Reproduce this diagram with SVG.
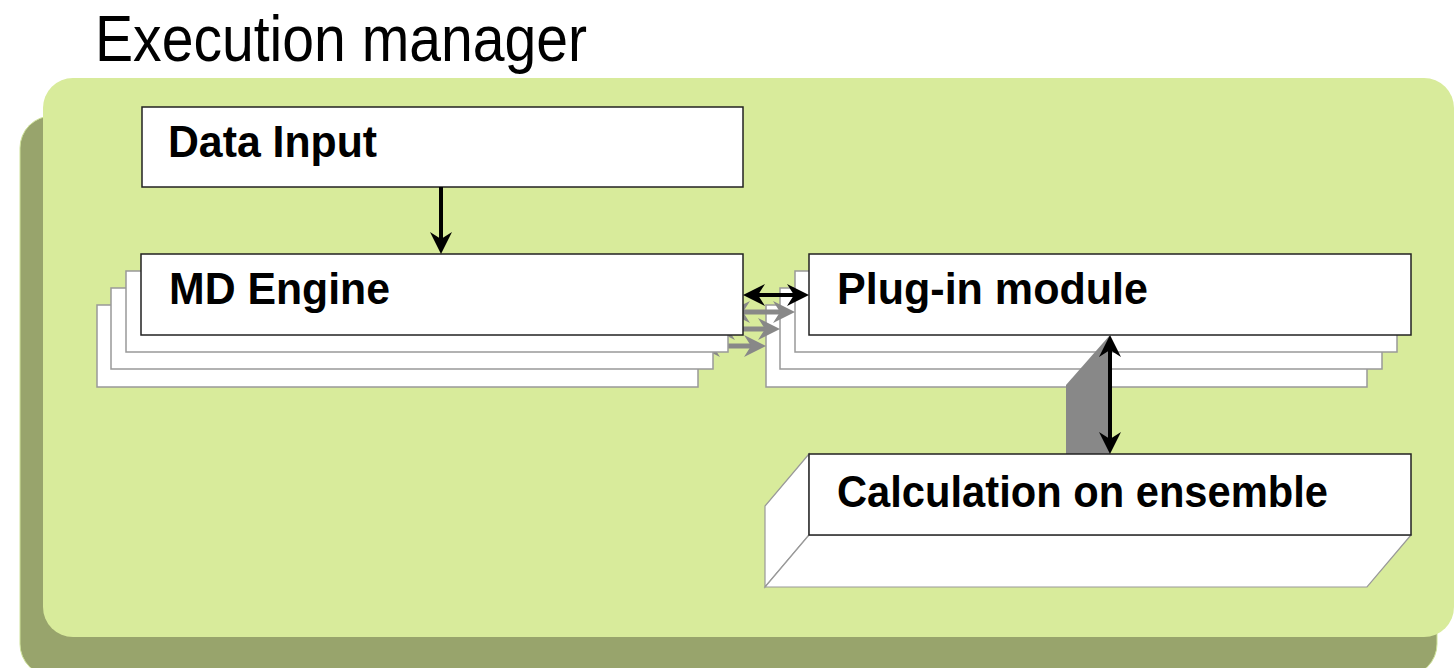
<svg xmlns="http://www.w3.org/2000/svg" width="1455" height="668" viewBox="0 0 1455 668">
  <style>
    .title { font-family: "Liberation Sans", Arial, sans-serif; font-size: 64px; fill: #000; }
    .label { font-family: "Liberation Sans", Arial, sans-serif; font-size: 45px; font-weight: bold; fill: #000; }
    .box { fill: #fff; stroke: #222; stroke-width: 1.5; }
    .layer { fill: #fff; stroke: #999; stroke-width: 1.5; }
    .face { fill: #fff; stroke: #999; stroke-width: 1.2; }
    .link { stroke: #000; stroke-width: 4; fill: none; }
    .link-gray { stroke: #888; stroke-width: 5; fill: none; }
    .head { fill: #000; }
    .head-gray { fill: #888; }
  </style>
  <defs>
    <!-- arrowhead pointing along +x, tip at the origin -->
    <path id="ah" d="M0,0 L-22,-11 L-15,0 L-22,11 z"/>
  </defs>

  <!-- background panels -->
  <g id="panel">
    <rect x="20" y="116" width="1417" height="560" rx="32" fill="#98a46c" stroke="#cfe39a" stroke-width="1"/>
    <rect x="43" y="78" width="1411" height="559" rx="30" fill="#d8eb9b"/>
  </g>

  <text id="title" class="title" x="95" y="61" textLength="492" lengthAdjust="spacingAndGlyphs">Execution manager</text>

  <!-- stacked back layers and their gray links, back to front -->
  <g id="md-engine-layer3"><rect class="layer" x="97" y="305" width="601" height="82"/></g>
  <g id="plugin-layer3"><rect class="layer" x="766" y="305" width="601" height="82"/></g>
  <g id="links-layer3">
    <line class="link-gray" x1="710" y1="346" x2="754" y2="346"/>
    <use href="#ah" class="head-gray" transform="translate(698,346) rotate(180)"/>
    <use href="#ah" class="head-gray" transform="translate(766,346)"/>
  </g>

  <g id="md-engine-layer2"><rect class="layer" x="111" y="288" width="602" height="81"/></g>
  <g id="plugin-layer2"><rect class="layer" x="780" y="288" width="602" height="81"/></g>
  <g id="links-layer2">
    <line class="link-gray" x1="725" y1="329" x2="768" y2="329"/>
    <use href="#ah" class="head-gray" transform="translate(713,329) rotate(180)"/>
    <use href="#ah" class="head-gray" transform="translate(780,329)"/>
  </g>

  <g id="md-engine-layer1"><rect class="layer" x="126" y="271" width="602" height="81"/></g>
  <g id="plugin-layer1"><rect class="layer" x="795" y="271" width="602" height="81"/></g>
  <g id="links-layer1">
    <line class="link-gray" x1="740" y1="312" x2="783" y2="312"/>
    <use href="#ah" class="head-gray" transform="translate(728,312) rotate(180)"/>
    <use href="#ah" class="head-gray" transform="translate(795,312)"/>
  </g>

  <!-- front nodes -->
  <g id="data-input">
    <rect class="box" x="142" y="107" width="601" height="80"/>
    <text class="label" x="168" y="157" textLength="209" lengthAdjust="spacingAndGlyphs">Data Input</text>
  </g>
  <g id="md-engine">
    <rect class="box" x="141" y="254" width="602" height="81"/>
    <text class="label" x="169" y="304" textLength="221" lengthAdjust="spacingAndGlyphs">MD Engine</text>
  </g>
  <g id="plugin-module">
    <rect class="box" x="809" y="254" width="602" height="81"/>
    <text class="label" x="837" y="304" textLength="311" lengthAdjust="spacingAndGlyphs">Plug-in module</text>
  </g>

  <!-- shaft between plug-in module and ensemble calculation -->
  <polygon id="shaft" points="1066,385 1110,335 1110,454 1066,454" fill="#888"/>

  <g id="calculation">
    <polygon class="face" points="809,454 765,506 765,587 809,535"/>
    <polygon class="face" points="809,535 765,587 1367,587 1411,535"/>
    <rect class="box" x="809" y="454" width="602" height="81"/>
    <text class="label" x="837" y="507" textLength="491" lengthAdjust="spacingAndGlyphs">Calculation on ensemble</text>
  </g>

  <!-- connectors -->
  <g id="connectors">
    <line class="link" x1="441" y1="187" x2="441" y2="242"/>
    <use href="#ah" class="head" transform="translate(441,254) rotate(90)"/>

    <line class="link" x1="755" y1="295" x2="797" y2="295"/>
    <use href="#ah" class="head" transform="translate(743,295) rotate(180)"/>
    <use href="#ah" class="head" transform="translate(809,295)"/>

    <line class="link" x1="1110" y1="347" x2="1110" y2="442"/>
    <use href="#ah" class="head" transform="translate(1110,335) rotate(-90)"/>
    <use href="#ah" class="head" transform="translate(1110,454) rotate(90)"/>
  </g>
</svg>
